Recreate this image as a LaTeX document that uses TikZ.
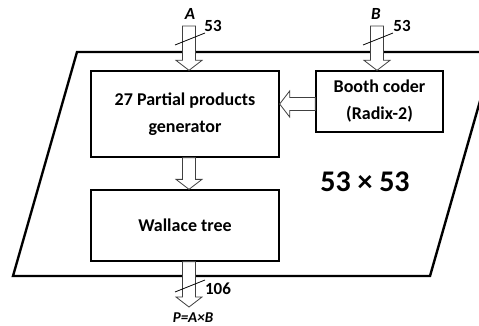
\documentclass[tikz,border=0pt]{standalone}
\usepackage{fontspec}
\setmainfont{Carlito}
\usetikzlibrary{positioning,calc}

\def\sw{6.5pt}   % shaft half width
\def\hw{13pt}    % head half width
\def\hl{10pt}    % head length

% hollow block arrows, #1 = tail, #2 = tip
\newcommand{\downfat}[2]{%
  \draw[fatarr] let \p1=(#1), \p2=(#2) in
    (\x2-\sw,\y1) -- (\x2-\sw,\y2+\hl) -- (\x2-\hw,\y2+\hl) -- (\p2)
    -- (\x2+\hw,\y2+\hl) -- (\x2+\sw,\y2+\hl) -- (\x2+\sw,\y1) -- cycle;}
\newcommand{\leftfat}[2]{%
  \draw[fatarr] let \p1=(#1), \p2=(#2) in
    (\x1,\y2-\sw) -- (\x2+\hl,\y2-\sw) -- (\x2+\hl,\y2-\hw) -- (\p2)
    -- (\x2+\hl,\y2+\hw) -- (\x2+\hl,\y2+\sw) -- (\x1,\y2+\sw) -- cycle;}

\begin{document}
\begin{tikzpicture}[x=1pt, y=-1pt,
  blk/.style={draw, line width=1.3pt, inner sep=0pt, align=center,
    font=\fontsize{18}{27}\selectfont\bfseries},
  fatarr/.style={draw=black!75, line width=0.8pt, fill=white},
  tick/.style={line width=0.8pt},
  lbl/.style={font=\fontsize{17}{20}\selectfont\bfseries}]

\useasboundingbox (0,0) rectangle (479,326);
\clip (0,0) rectangle (479,326);

% --- CHIP OUTLINE ---
\draw[line width=2.4pt] (77,52) -- (494,52) -- (430,276) -- (13,276) -- cycle;

% --- BLOCKS ---
\node[blk, minimum width=188pt, minimum height=86pt] (pp) at (185,114)
  {27 Partial products\\generator};
\node[blk, minimum width=127pt, minimum height=61pt] (booth) at (379.5,101.5)
  {Booth coder\\(Radix-2)};
\node[blk, minimum width=188pt, minimum height=71pt] (wallace) at (185,225.5)
  {Wallace tree};
\node[font=\fontsize{30}{34}\selectfont\bfseries] (size) at (365,182)
  {53 × 53};

% --- PORTS ---
\coordinate (Ain) at (189,26);
\coordinate (Bin) at (377,26);
\coordinate (Pout) at (189,307);

% --- DATA FLOW ---
\downfat{Ain}{Ain |- pp.north}
\downfat{Bin}{Bin |- booth.north}
\leftfat{[yshift=-2.5pt]booth.west}{[yshift=-2.5pt]booth.west -| pp.east}
\downfat{Ain |- pp.south}{Ain |- wallace.north}
\downfat{Ain |- wallace.south}{Pout}

% --- BUS WIDTHS ---
\draw[tick] ($(Ain)+(-14,19)$) -- ++(30,-12);
\draw[tick] ($(Bin)+(-14,19)$) -- ++(30,-12);
\draw[tick] ($(Pout)+(-14,-15)$) -- ++(30,-12);
\node[lbl] (wa) at ($(Ain)+(24,0)$) {53};
\node[lbl] (wb) at ($(Bin)+(25,0)$) {53};
\node[lbl] (wp) at ($(Pout)+(29,-18)$) {106};

% --- PORT NAMES ---
\node[lbl, font=\fontsize{17}{20}\selectfont\bfseries\itshape] (la) at (190,14) {A};
\node[lbl, font=\fontsize{17}{20}\selectfont\bfseries\itshape] (lb) at (376,14) {B};
\node[lbl, font=\fontsize{15}{18}\selectfont\bfseries\itshape] (lp) at (193,318) {P=A×B};

\end{tikzpicture}
\end{document}
